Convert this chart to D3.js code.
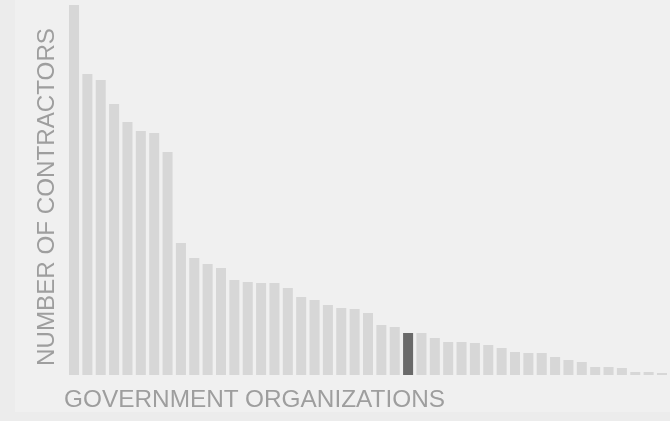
<!DOCTYPE html>
<html>
<head>
<meta charset="utf-8">
<script src="https://cdn.jsdelivr.net/npm/d3@7"></script>
<style>
  html, body { margin: 0; padding: 0; background: #ececec; }
  svg { display: block; filter: blur(0.5px); }
</style>
</head>
<body>
<script>
// number of contractors per government organization, sorted high to low
var organizations = d3.range(1, 46).map(function(i) { return "Org " + i })
var contractors = [370, 301, 295, 271, 253, 244, 242, 223, 132, 117, 111, 107, 95, 93, 92, 92,
  87, 78, 75, 70, 67, 66, 62, 50, 48, 42, 42, 37, 33, 33, 32, 30, 27, 23, 22, 22, 18, 15, 13,
  8, 8, 7, 3, 3, 2]
var highlighted = ["Org 26"]
var xLabel = "GOVERNMENT ORGANIZATIONS"
var yLabel = "NUMBER OF CONTRACTORS"

var width = 670
var height = 421
var margin = { top: 5, right: 3, bottom: 46, left: 69 }

var data = organizations.map(function(d, i) { return { org: d, value: contractors[i] } })

var svg = d3.select("body").append("svg")
    .attr("width", width)
    .attr("height", height)

// light panel
svg.append("rect")
    .attr("x", 15)
    .attr("y", 0)
    .attr("width", width - 15)
    .attr("height", 412)
    .attr("fill", "#f0f0f0")

var x = d3.scaleBand()
    .domain(organizations)
    .range([margin.left, width - margin.right])
    .paddingInner(0.25)
    .paddingOuter(0)

var y = d3.scaleLinear()
    .domain([0, d3.max(contractors)])
    .range([height - margin.bottom, margin.top])

svg.append("g")
  .selectAll("rect")
  .data(data)
  .join("rect")
    .attr("x", function(d) { return x(d.org) })
    .attr("y", function(d) { return y(d.value) })
    .attr("width", x.bandwidth())
    .attr("height", function(d) { return y(0) - y(d.value) })
    .attr("fill", function(d) { return highlighted.indexOf(d.org) > -1 ? "#6a6a6a" : "#d7d7d7" })

svg.append("text")
    .attr("x", 64)
    .attr("y", 407)
    .attr("textLength", 381)
    .attr("lengthAdjust", "spacingAndGlyphs")
    .style("font-family", "'Liberation Sans', Arial, sans-serif")
    .style("font-size", "24px")
    .attr("fill", "#9e9e9e")
    .text(xLabel)

svg.append("text")
    .attr("transform", "translate(54,366) rotate(-90)")
    .attr("textLength", 338)
    .attr("lengthAdjust", "spacingAndGlyphs")
    .style("font-family", "'Liberation Sans', Arial, sans-serif")
    .style("font-size", "24px")
    .attr("fill", "#9e9e9e")
    .text(yLabel)
</script>
</body>
</html>
